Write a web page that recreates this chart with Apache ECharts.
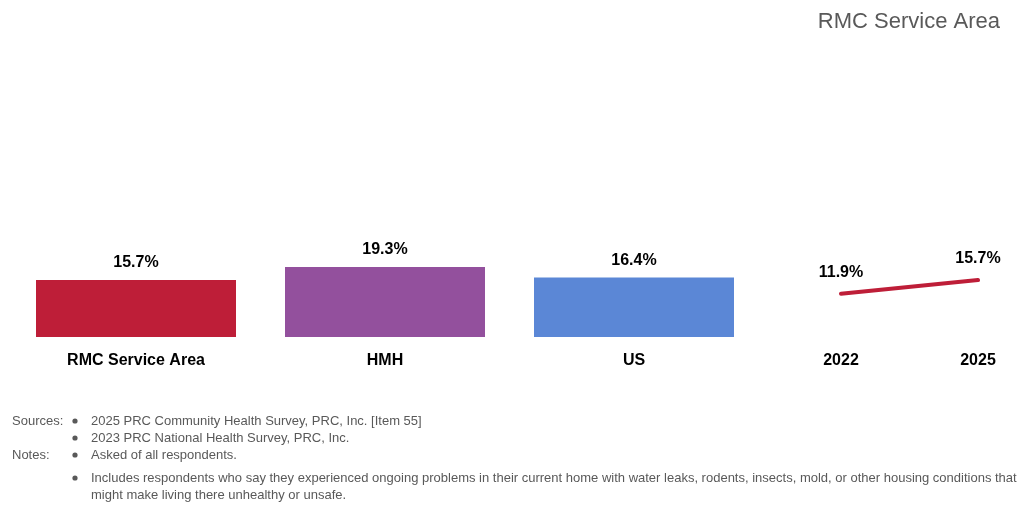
<!DOCTYPE html>
<html><head><meta charset="utf-8">
<script src="https://cdn.jsdelivr.net/npm/echarts@6/dist/echarts.min.js"></script>
<style>html,body{margin:0;padding:0;background:#fff}#c{width:1031px;height:506px}</style>
</head><body><div id="c"></div>
<script>
const barCategories = ['RMC Service Area', 'HMH', 'US'];
const barValues = [15.7, 19.3, 16.4];
const barColors = ['#BE1E38', '#93509D', '#5B87D6'];
const trendYears = ['2022', '2025'];
const trendValues = [11.9, 15.7];
const titleText = 'RMC Service Area';
const noteLines = [
  ['Sources:', '2025 PRC Community Health Survey, PRC, Inc. [Item 55]'],
  ['', '2023 PRC National Health Survey, PRC, Inc.'],
  ['Notes:', 'Asked of all respondents.'],
  ['', 'Includes respondents who say they experienced ongoing problems in their current home with water leaks, rodents, insects, mold, or other housing conditions that'],
  [null, 'might make living there unhealthy or unsafe.']
];

const F = '"Liberation Sans", Arial, sans-serif';
const chart = echarts.init(document.getElementById('c'), null, {renderer: 'canvas'});

const graphics = [];
const noteY = [421, 438, 455, 478, 495];
noteLines.forEach((l, i) => {
  if (l[0]) graphics.push({type: 'text', x: 12, y: noteY[i], style: {text: l[0], font: '13px ' + F, fill: '#595959', verticalAlign: 'middle'}});
  if (l[0] !== null) graphics.push({type: 'circle', shape: {cx: 75, cy: noteY[i], r: 2.6}, style: {fill: '#595959'}});
  graphics.push({type: 'text', x: 91, y: noteY[i], style: {text: l[1], font: '13px ' + F, fill: '#595959', verticalAlign: 'middle'}});
});

const maxV = 80;
const labelStyle = {color: '#000', fontFamily: F, fontWeight: 'bold', fontSize: 16};
const option = {
  animation: false,
  title: {text: titleText, right: 26, top: 6, textStyle: {fontFamily: F, fontWeight: 'normal', fontSize: 22, color: '#595959'}},
  grid: [
    {left: 11.5, width: 747, bottom: 506 - 337, height: 290.4},
    {left: 841, width: 137, bottom: 506 - 337, height: 290.4}
  ],
  xAxis: [
    {type: 'category', gridIndex: 0, data: barCategories, axisLine: {show: false}, axisTick: {show: false},
     axisLabel: Object.assign({margin: 16}, labelStyle)},
    {type: 'category', gridIndex: 1, data: trendYears, boundaryGap: false, axisLine: {show: false}, axisTick: {show: false},
     axisLabel: Object.assign({margin: 16}, labelStyle)}
  ],
  yAxis: [
    {type: 'value', gridIndex: 0, min: 0, max: maxV, show: false},
    {type: 'value', gridIndex: 1, min: 0, max: maxV, show: false}
  ],
  series: [
    {type: 'bar', xAxisIndex: 0, yAxisIndex: 0, barWidth: 200,
     data: barValues.map((v, i) => ({value: v, itemStyle: {color: barColors[i]}})),
     label: Object.assign({show: true, position: 'top', distance: 9, formatter: p => p.value.toFixed(1) + '%'}, labelStyle)},
    {type: 'line', xAxisIndex: 1, yAxisIndex: 1, data: trendValues, symbol: 'circle', symbolSize: 2, showSymbol: true, clip: false,
     itemStyle: {color: 'rgba(190,30,56,0)', borderWidth: 0},
     lineStyle: {color: '#BE1E38', width: 4, cap: 'round'},
     label: Object.assign({show: true, position: 'top', distance: 12, formatter: p => p.value.toFixed(1) + '%'}, labelStyle)}
  ],
  graphic: graphics
};
chart.setOption(option);
</script></body></html>
